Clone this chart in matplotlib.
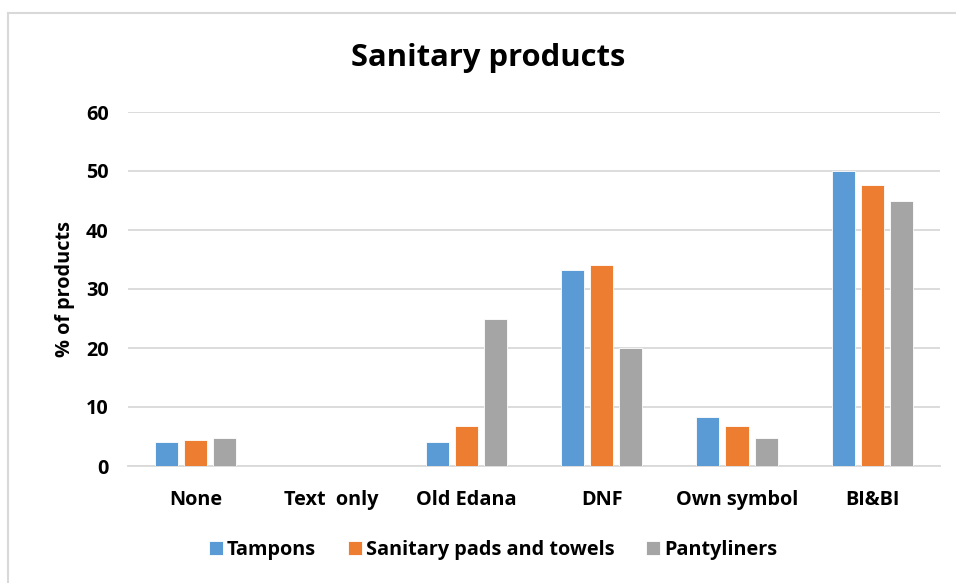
# Sanitary products - grouped bar chart
import matplotlib.pyplot as plt
import matplotlib.lines as mlines
import numpy as np

plt.rcParams["font.family"] = ["Open Sans", "DejaVu Sans"]
plt.rcParams["font.weight"] = "bold"

# data
categories = ["None", "Text  only", "Old Edana", "DNF", "Own symbol", "BI&BI"]
series_names = ["Tampons", "Sanitary pads and towels", "Pantyliners"]
tampons = [4.0, 0, 4.0, 33.3, 8.3, 50.0]
pads = [4.4, 0, 6.8, 34.0, 6.8, 47.6]
pantyliners = [4.8, 0, 25.0, 20.0, 4.8, 45.0]
yticks = [0, 10, 20, 30, 40, 50, 60]

colors = ["#5B9BD5", "#ED7D31", "#A5A5A5"]

fig = plt.figure(figsize=(9.56, 5.83), dpi=100)
ax = fig.add_axes([128 / 956, 1 - 466 / 583, 812 / 956, (466 - 112) / 583])

x = np.arange(len(categories))
width = 0.17
step = 0.215
for i, (vals, name) in enumerate(zip([tampons, pads, pantyliners], series_names)):
    ax.bar(x + (i - 1) * step, vals, width, color=colors[i], label=name,
           edgecolor="white", linewidth=0.6, zorder=3)

ax.set_xlim(-0.5, len(categories) - 0.5)
ax.set_ylim(0, 60)
ax.set_yticks(yticks)
ax.set_xticks(x)
ax.set_xticklabels(categories)
ax.grid(axis="y", color="#D9D9D9", linewidth=1.3, zorder=0)
ax.tick_params(length=0, labelsize=14.3, colors="black")
ax.tick_params(axis="x", pad=17)
ax.tick_params(axis="y", pad=14)
for s in ["top", "right", "left"]:
    ax.spines[s].set_visible(False)
ax.spines["bottom"].set_color("#D9D9D9")
ax.spines["bottom"].set_linewidth(1.3)

ax.set_ylabel("% of products", fontsize=14.3, fontweight="bold", labelpad=8)
fig.text(488 / 956, 1 - 58 / 583, "Sanitary products", ha="center", va="center",
         fontsize=22.3, fontweight="bold")

fig.legend(loc="center", bbox_to_anchor=(493 / 956, 1 - 550 / 583), ncol=3,
           frameon=False, fontsize=14.3, handlelength=0.7, handleheight=0.7,
           handletextpad=0.2, columnspacing=1.6)

# chart border (left and top)
fig.add_artist(mlines.Line2D([8 / 956, 8 / 956], [0, 1 - 13 / 583],
                             color="#D9D9D9", linewidth=1.5))
fig.add_artist(mlines.Line2D([8 / 956, 1], [1 - 13 / 583, 1 - 13 / 583],
                             color="#D9D9D9", linewidth=1.5))

plt.savefig("out.png", dpi=100)
